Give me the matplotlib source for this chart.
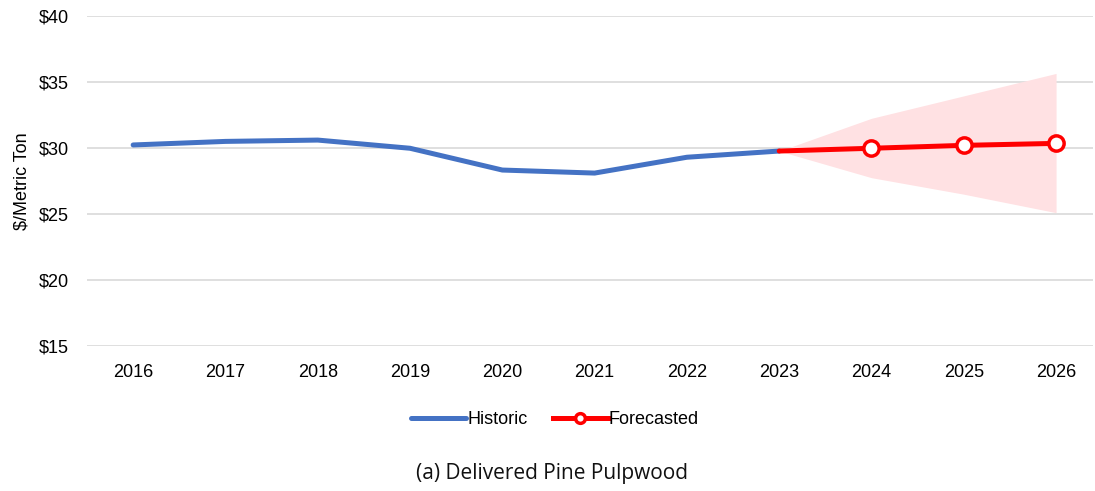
import matplotlib.pyplot as plt

# data
hist_years = [2016, 2017, 2018, 2019, 2020, 2021, 2022, 2023]
hist_price = [30.23, 30.5, 30.6, 29.98, 28.33, 28.1, 29.3, 29.77]

fc_years = [2023, 2024, 2025, 2026]
fc_price = [29.77, 29.98, 30.2, 30.35]
fc_upper = [29.77, 32.25, 33.95, 35.65]
fc_lower = [29.77, 27.75, 26.5, 25.1]

yticks = [15, 20, 25, 30, 35, 40]

plt.rcParams['font.family'] = ['Liberation Sans', 'DejaVu Sans']

fig = plt.figure(figsize=(10.95, 4.91), dpi=100)
ax = fig.add_axes([87 / 1095, 1 - 346 / 491, (1093 - 87) / 1095, 330 / 491])

ax.fill_between(fc_years, fc_lower, fc_upper, color="#ffe1e3", lw=0, zorder=1)
ax.plot(hist_years, hist_price, color="#4472c4", lw=3.6, solid_capstyle="round",
        label="Historic", zorder=3)
ax.plot(fc_years, fc_price, color="#ff0000", lw=3.6, solid_capstyle="round", zorder=3)
ax.plot(fc_years[1:], fc_price[1:], ls="none", marker="o", ms=11, mfc="white",
        mec="#ff0000", mew=2.5, zorder=4)
# legend proxy for the forecast series
ax.plot([], [], color="#ff0000", lw=3.6, marker="o", ms=7, mfc="white", mec="#ff0000",
        mew=2.5, label="Forecasted")

ax.set_xlim(2015.5, 2026.4)
ax.set_ylim(15, 40)
ax.set_yticks(yticks)
ax.set_yticklabels(["$%d" % v for v in yticks])
ax.set_xticks(hist_years + fc_years[1:])
ax.grid(axis="y", color="#d9d9d9", lw=1.2)
ax.set_axisbelow(True)
for s in ax.spines.values():
    s.set_visible(False)
ax.tick_params(length=0, labelsize=13, colors="black")
ax.tick_params(axis="x", pad=13)
ax.tick_params(axis="y", pad=13)
ax.set_ylabel("$/Metric Ton", fontsize=13, labelpad=6)

ax.legend(loc="center", bbox_to_anchor=(555 / 1095, 1 - 420 / 491),
          bbox_transform=fig.transFigure, ncol=2, frameon=False, fontsize=13,
          handlelength=3.05, columnspacing=1.4, handletextpad=0.05)

fig.text(552 / 1095, 1 - 474 / 491, "(a) Delivered Pine Pulpwood", ha="center",
         va="center", fontsize=15, family=["Open Sans", "DejaVu Sans"], color="#111111")

fig.savefig("out.png", dpi=100)
